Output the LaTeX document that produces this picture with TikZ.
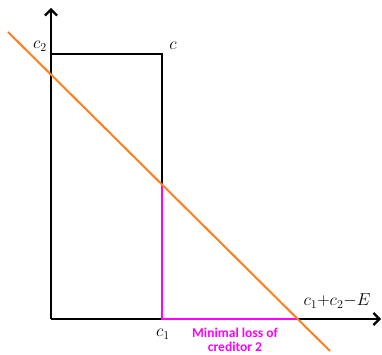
\documentclass[tikz,border=0pt]{standalone}
\usepackage{fontspec}
\newfontfamily\labfont{Carlito}
\usetikzlibrary{arrows.meta}
\definecolor{myorange}{HTML}{FF7F1F}
\definecolor{mymag}{HTML}{FF00FF}
\tikzset{
  axis/.style={line width=2.4pt,-{Straight Barb[length=6pt,width=12pt,line width=2.2pt]}},
  boxline/.style={line width=2.6pt},
  magline/.style={line width=2.6pt,draw=mymag},
  orline/.style={line width=2pt,draw=myorange},
  lab/.style={inner sep=1pt,font=\fontsize{17}{19}\selectfont},
  notelab/.style={inner sep=0pt,align=center,text=mymag,font=\labfont\bfseries\fontsize{13.5}{13.5}\selectfont}
}
\begin{document}
\begin{tikzpicture}[x=1pt,y=-1pt]
\useasboundingbox (0,0) rectangle (382,355);
\coordinate (O) at (51,319);
\coordinate (ytop) at (51,8);
\coordinate (xend) at (381,319);
\coordinate (c2pt) at (51,54);
\coordinate (cpt) at (162,54);
\coordinate (c1pt) at (162,319);
\coordinate (mid) at (162,184);
\coordinate (xcross) at (297,319);
\coordinate (ostart) at (8,32);
\coordinate (oend) at (330,351);
\draw[axis] (O) -- (ytop);
\draw[axis] (O) -- (xend);
\draw[boxline] (c2pt) -- (cpt) -- (mid);
\draw[magline] (mid) -- (c1pt) -- (xcross);
\draw[orline] (ostart) -- (oend);
\node[lab] (lc2) at (40,46) {$c_2$};
\node[lab] (lc) at (173,46) {$c$};
\node[lab] (lc1) at (163,334) {$c_1$};
\node[lab] (lsum) at (337,301) {$c_1{+}c_2\mathrm{-}E$};
\node[notelab] (note) at (235,340) {Minimal loss of\\creditor 2};
\end{tikzpicture}
\end{document}
